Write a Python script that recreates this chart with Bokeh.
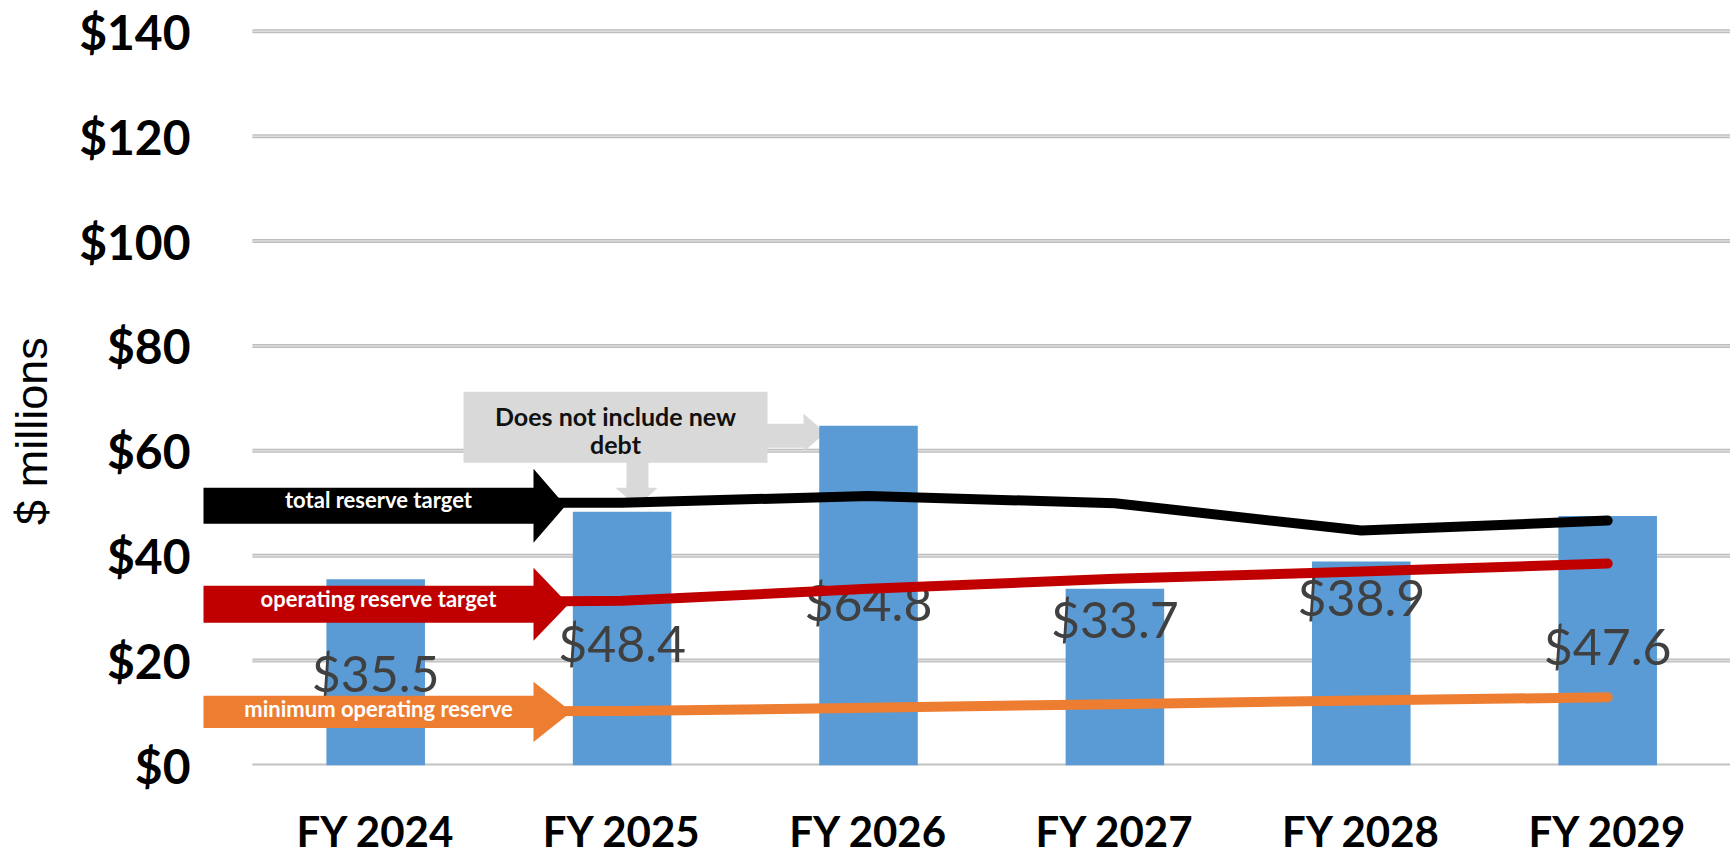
import math
from bokeh.plotting import figure
from bokeh.layouts import row
from bokeh.models import Range1d, FixedTicker
from bokeh.core.properties import value
from bokeh.embed import file_html
from bokeh.resources import INLINE

# ---- data ----
categories = ["FY 2024", "FY 2025", "FY 2026", "FY 2027", "FY 2028", "FY 2029"]
reserve_balance = [35.5, 48.4, 64.8, 33.7, 38.9, 47.6]
balance_label_y = [17.7, 23.4, 31.2, 28.0, 32.2, 22.7]
total_reserve_target = [50.1, 50.1, 51.4, 50.0, 44.8, 46.7]
operating_reserve_target = [31.0, 31.4, 33.7, 35.6, 37.0, 38.5]
minimum_operating_reserve = [10.3, 10.4, 11.0, 11.7, 12.4, 13.0]
y_ticks = [0, 20, 40, 60, 80, 100, 120, 140]
series_names = ["total reserve target", "operating reserve target", "minimum operating reserve"]
callout_lines = ["Does not include new", "debt"]
y_title = "$ millions"

# ---- page pixel -> data helpers ----
def px2x(px):
    return (px - 252.0) / 246.4

def px2y(py):
    return (764.6 - py) / 5.241

xc = [i + 0.5 for i in range(len(categories))]

TITLE_W = 62
H = 859

# narrow panel holding the rotated axis title
t = figure(width=TITLE_W, height=H, output_backend="svg", toolbar_location=None,
           x_range=Range1d(0, TITLE_W), y_range=Range1d(0, H),
           min_border_left=0, min_border_right=0, min_border_top=0, min_border_bottom=0)
t.axis.visible = False
t.grid.grid_line_color = None
t.outline_line_color = None
t.text(x=[31], y=[H - 476], text=[y_title], angle=math.pi / 2, text_align="center",
       text_baseline="middle", text_color="#000000", text_font=value("Liberation Sans"),
       text_font_size="45px")

p = figure(width=1730 - TITLE_W, height=H, output_backend="svg", toolbar_location=None,
           x_range=Range1d(px2x(200), px2x(1730)), y_range=Range1d(0, px2y(15)),
           min_border_left=200 - TITLE_W, min_border_right=0, min_border_top=15, min_border_bottom=94)
p.outline_line_color = None
p.background_fill_color = "white"
p.border_fill_color = "white"
p.xgrid.grid_line_color = None
p.ygrid.grid_line_color = None

# gridlines (start at category area)
p.segment(x0=[0] * len(y_ticks), x1=[6.2] * len(y_ticks), y0=y_ticks, y1=y_ticks,
          line_color="#bdbdbd", line_width=4)
p.segment(x0=[0] * len(y_ticks), x1=[6.2] * len(y_ticks), y0=y_ticks, y1=y_ticks,
          line_color="#dedede", line_width=1.5)

# callout (grey box with arrows)
bx0, bx1, by0, by1 = px2x(463), px2x(767), px2y(462), px2y(391)
p.quad(left=[bx0], right=[bx1], bottom=[by0], top=[by1], fill_color="#d9d9d9", line_color=None)
down_x = [px2x(v) for v in [626, 648, 648, 657, 637, 615, 626]]
down_y = [px2y(v) for v in [461, 461, 487, 487, 506, 487, 487]]
p.patch(down_x, down_y, fill_color="#d9d9d9", line_color=None)
right_x = [px2x(v) for v in [766, 803, 803, 825, 803, 803, 766]]
right_y = [px2y(v) for v in [423, 423, 413, 432, 451, 447, 447]]
p.patch(right_x, right_y, fill_color="#d9d9d9", line_color=None)

# bars
p.vbar(x=xc, top=reserve_balance, width=0.4, bottom=0, fill_color="#5b9bd5", line_color=None)

# bar labels
p.text(x=xc, y=balance_label_y, text=["$%.1f" % v for v in reserve_balance],
       text_align="center", text_baseline="middle", text_color="#404040",
       text_font=value("Lato"), text_font_size="50px")

# lines
p.line(xc, minimum_operating_reserve, line_color="#ed7d31", line_width=10, line_cap="round", line_join="round")
p.line(xc, operating_reserve_target, line_color="#c00000", line_width=10, line_cap="round", line_join="round")
p.line(xc, total_reserve_target, line_color="#000000", line_width=10, line_cap="round", line_join="round")

# left arrows labelling each series
def arrow(x0, xh, xt, cy, bh, hh):
    xs = [x0, xh, xh, xt, xh, xh, x0]
    ys = [cy - bh, cy - bh, cy - hh, cy, cy + hh, cy + bh, cy + bh]
    return [px2x(v) for v in xs], [px2y(v) for v in ys]

arrow_specs = [
    (203, 533, 565, 505, 18, 37, "#000000", 499),
    (203, 533, 568, 603.5, 18.5, 36.5, "#c00000", 598),
    (203, 533, 571, 711, 16, 30, "#ed7d31", 708),
]
for name, (x0, xh, xt, cy, bh, hh, col, ty) in zip(series_names, arrow_specs):
    ax, ay = arrow(x0, xh, xt, cy, bh, hh)
    p.patch(ax, ay, fill_color=col, line_color=None)
    p.text(x=[px2x(378)], y=[px2y(ty)], text=[name], text_align="center", text_baseline="middle",
           text_color="white", text_font=value("Lato"), text_font_style="bold", text_font_size="22px")

# callout text
for line_txt, ty in zip(callout_lines, [415, 443]):
    p.text(x=[px2x(615)], y=[px2y(ty)], text=[line_txt], text_align="center", text_baseline="middle",
           text_color="#111111", text_font=value("Lato"), text_font_style="bold", text_font_size="25px")

# axes
p.yaxis.ticker = FixedTicker(ticks=y_ticks)
p.yaxis.major_label_overrides = {tk: "$%d" % tk for tk in y_ticks}
p.yaxis.axis_line_color = None
p.yaxis.major_tick_line_color = None
p.yaxis.minor_tick_line_color = None
p.yaxis.major_label_standoff = 4
p.yaxis.major_label_text_font = "Lato"
p.yaxis.major_label_text_font_style = "bold"
p.yaxis.major_label_text_font_size = "48px"
p.yaxis.major_label_text_color = "#000000"

p.xaxis.ticker = FixedTicker(ticks=xc)
p.xaxis.major_label_overrides = {x: c for x, c in zip(xc, categories)}
p.xaxis.axis_line_color = None
p.xaxis.major_tick_line_color = None
p.xaxis.minor_tick_line_color = None
p.xaxis.major_label_standoff = 34
p.xaxis.major_label_text_font = "Lato"
p.xaxis.major_label_text_font_style = "bold"
p.xaxis.major_label_text_font_size = "42px"
p.xaxis.major_label_text_color = "#000000"

layout = row(t, p, spacing=0)
open("out.html", "w").write(file_html(layout, INLINE))
